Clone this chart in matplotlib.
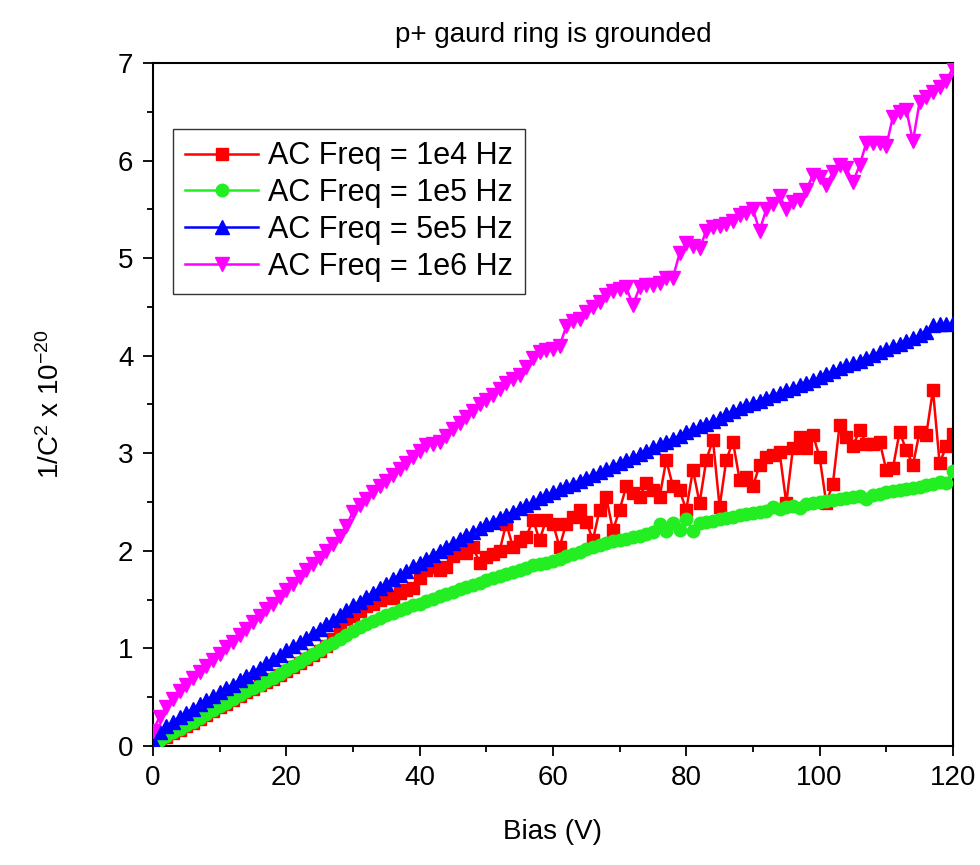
import matplotlib
matplotlib.use("Agg")
import matplotlib.pyplot as plt
from matplotlib.ticker import MultipleLocator

plt.rcParams['font.family'] = ['Liberation Sans', 'DejaVu Sans']
plt.rcParams['mathtext.default'] = 'regular'

bias = list(range(0, 121))

freq_1e4 = [0.01, 0.05, 0.09, 0.13, 0.16, 0.20, 0.24, 0.28, 0.32, 0.36, 0.40,
            0.43, 0.47, 0.51, 0.55, 0.58, 0.62, 0.66, 0.69, 0.73, 0.77,
            0.81, 0.85, 0.89, 0.93, 0.97, 1.02, 1.10, 1.22, 1.30, 1.33,
            1.38, 1.43, 1.45, 1.50, 1.53, 1.52, 1.57, 1.60, 1.62, 1.72,
            1.80, 1.83, 1.80, 1.83, 1.95, 2.00, 1.98, 2.04, 1.88, 1.94,
            1.97, 2.00, 2.28, 2.04, 2.10, 2.14, 2.32, 2.11, 2.32, 2.28,
            2.04, 2.28, 2.35, 2.42, 2.30, 2.11, 2.42, 2.55, 2.21, 2.42,
            2.66, 2.59, 2.55, 2.70, 2.62, 2.55, 2.93, 2.66, 2.62, 2.42,
            2.83, 2.49, 2.93, 3.14, 2.45, 2.93, 3.12, 2.73, 2.76, 2.66,
            2.88, 2.96, 2.98, 3.01, 2.49, 3.05, 3.17, 3.05, 3.19, 2.96,
            2.49, 2.69, 3.29, 3.17, 3.07, 3.24, 3.10, 3.10, 3.12, 2.83,
            2.85, 3.22, 3.03, 2.88, 3.22, 3.19, 3.65, 2.90, 3.07, 3.20]

freq_1e5 = [0.02, 0.06, 0.10, 0.14, 0.17, 0.21, 0.25, 0.29, 0.33, 0.37, 0.41,
            0.44, 0.48, 0.52, 0.56, 0.59, 0.63, 0.67, 0.70, 0.74, 0.78,
            0.82, 0.86, 0.90, 0.94, 0.98, 1.02, 1.06, 1.10, 1.14, 1.18,
            1.22, 1.25, 1.28, 1.31, 1.34, 1.36, 1.39, 1.41, 1.44, 1.46,
            1.49, 1.51, 1.54, 1.56, 1.58, 1.61, 1.63, 1.65, 1.67, 1.70,
            1.72, 1.74, 1.76, 1.78, 1.80, 1.82, 1.85, 1.87, 1.88, 1.90,
            1.92, 1.95, 1.97, 1.99, 2.02, 2.04, 2.06, 2.08, 2.10, 2.11,
            2.12, 2.14, 2.15, 2.17, 2.19, 2.28, 2.20, 2.29, 2.21, 2.33,
            2.20, 2.29, 2.30, 2.31, 2.33, 2.34, 2.35, 2.37, 2.38, 2.39,
            2.40, 2.41, 2.45, 2.43, 2.45, 2.46, 2.44, 2.48, 2.49, 2.50,
            2.51, 2.52, 2.53, 2.54, 2.55, 2.56, 2.53, 2.57, 2.58, 2.60,
            2.61, 2.62, 2.63, 2.64, 2.65, 2.67, 2.69, 2.71, 2.70, 2.82]

freq_5e5 = [0.05, 0.14, 0.20, 0.25, 0.30, 0.34, 0.38, 0.43, 0.47, 0.51, 0.55,
            0.59, 0.63, 0.68, 0.72, 0.76, 0.80, 0.85, 0.89, 0.93, 0.98,
            1.02, 1.07, 1.11, 1.16, 1.20, 1.25, 1.29, 1.34, 1.39, 1.44,
            1.48, 1.53, 1.57, 1.62, 1.66, 1.71, 1.75, 1.79, 1.84, 1.88,
            1.92, 1.96, 2.00, 2.04, 2.08, 2.12, 2.16, 2.19, 2.23, 2.27,
            2.30, 2.34, 2.37, 2.40, 2.44, 2.47, 2.50, 2.54, 2.57, 2.60,
            2.63, 2.66, 2.69, 2.72, 2.75, 2.78, 2.81, 2.84, 2.87, 2.90,
            2.93, 2.96, 2.99, 3.02, 3.06, 3.09, 3.12, 3.15, 3.18, 3.22,
            3.25, 3.28, 3.30, 3.33, 3.36, 3.40, 3.43, 3.46, 3.49, 3.52,
            3.54, 3.57, 3.60, 3.62, 3.65, 3.67, 3.70, 3.72, 3.75, 3.78,
            3.81, 3.84, 3.87, 3.90, 3.92, 3.95, 3.98, 4.01, 4.04, 4.07,
            4.10, 4.12, 4.15, 4.18, 4.21, 4.24, 4.31, 4.32, 4.32, 4.33]

freq_1e6 = [0.15, 0.30, 0.40, 0.48, 0.56, 0.63, 0.70, 0.76, 0.82, 0.88, 0.94,
            1.01, 1.07, 1.14, 1.20, 1.27, 1.33, 1.40, 1.46, 1.53, 1.60,
            1.66, 1.73, 1.80, 1.86, 1.93, 2.00, 2.07, 2.15, 2.25, 2.40,
            2.47, 2.53, 2.60, 2.66, 2.72, 2.78, 2.84, 2.90, 2.96, 3.02,
            3.08, 3.10, 3.12, 3.18, 3.25, 3.31, 3.37, 3.43, 3.50, 3.55,
            3.60, 3.66, 3.72, 3.76, 3.80, 3.88, 3.98, 4.04, 4.06, 4.07,
            4.10, 4.30, 4.36, 4.38, 4.45, 4.50, 4.55, 4.62, 4.66, 4.68,
            4.70, 4.52, 4.70, 4.72, 4.72, 4.75, 4.80, 4.80, 5.05, 5.15,
            5.12, 5.10, 5.28, 5.32, 5.33, 5.35, 5.38, 5.44, 5.46, 5.50,
            5.28, 5.50, 5.55, 5.64, 5.50, 5.58, 5.60, 5.70, 5.85, 5.83,
            5.75, 5.88, 5.95, 5.92, 5.78, 5.95, 6.18, 6.18, 6.18, 6.15,
            6.45, 6.50, 6.52, 6.20, 6.60, 6.65, 6.70, 6.75, 6.82, 6.95]

labels = ["AC Freq = 1e4 Hz", "AC Freq = 1e5 Hz", "AC Freq = 5e5 Hz", "AC Freq = 1e6 Hz"]

fig = plt.figure(figsize=(9.8, 8.65), dpi=100)
ax = fig.add_axes([0.156, 0.1376, 0.8164, 0.7896])

ax.plot(bias, freq_1e4, color='#ff0000', marker='s', ms=9, lw=1.8, label=labels[0], zorder=2)
ax.plot(bias, freq_1e5, color='#22ee22', marker='o', ms=9, lw=1.8, label=labels[1], zorder=3)
ax.plot(bias, freq_5e5, color='#0000ff', marker='^', ms=10.5, lw=1.8, label=labels[2], zorder=4)
ax.plot(bias, freq_1e6, color='#ff00ff', marker='v', ms=10.5, lw=1.8, label=labels[3], zorder=5)

ax.set_xlim(0, 120)
ax.set_ylim(0, 7)
ax.xaxis.set_major_locator(MultipleLocator(20))
ax.xaxis.set_minor_locator(MultipleLocator(10))
ax.yaxis.set_major_locator(MultipleLocator(1))
ax.yaxis.set_minor_locator(MultipleLocator(0.5))
ax.tick_params(which='major', direction='out', length=7, width=1.3, labelsize=20, pad=7,
               top=False, right=False)
ax.tick_params(which='minor', direction='out', length=4, width=1.3, top=False, right=False)
for s in ax.spines.values():
    s.set_linewidth(1.5)

ax.set_xlabel("Bias (V)", fontsize=20, labelpad=20)
ax.set_ylabel(r"1/C$^2$ x 10$^{-20}$", fontsize=20, labelpad=38)
ax.set_title("p+ gaurd ring is grounded", fontsize=20, pad=15)

leg = ax.legend(loc='upper left', bbox_to_anchor=(0.025, 0.903), borderaxespad=0,
                fontsize=22, fancybox=False, edgecolor='#333333', framealpha=1,
                handlelength=2.4, handletextpad=0.3, labelspacing=0.22,
                borderpad=0.4)
leg.get_frame().set_linewidth(1.0)

fig.savefig("out.png", dpi=100)
